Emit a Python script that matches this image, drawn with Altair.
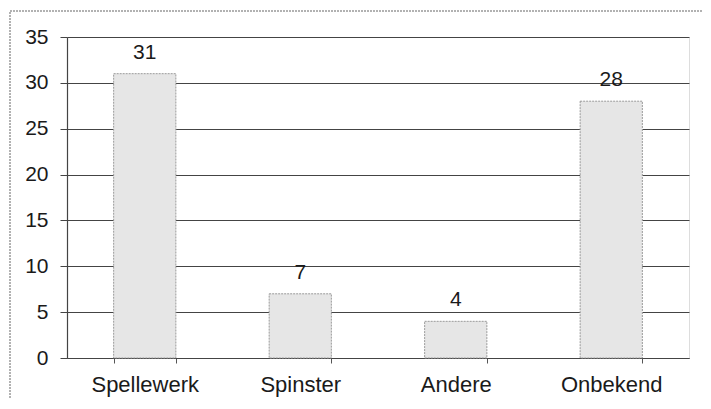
import altair as alt
import pandas as pd

categories = ["Spellewerk", "Spinster", "Andere", "Onbekend"]
values = [31, 7, 4, 28]

df = pd.DataFrame({"cat": categories, "val": values})

FONT = "Liberation Sans"

x_enc = alt.X(
    "cat:N",
    sort=categories,
    title=None,
    scale=alt.Scale(paddingInner=0.6, paddingOuter=0.3),
    axis=alt.Axis(
        labelAngle=0,
        labelFont=FONT,
        labelFontSize=22,
        labelColor="#1a1a1a",
        labelPadding=11,
        tickBand="extent",
        tickSize=5,
        tickColor="#555",
        domainColor="#444",
        domainWidth=1.2,
        grid=False,
    ),
)
y_enc = alt.Y(
    "val:Q",
    title=None,
    scale=alt.Scale(domain=[0, 35], nice=False),
    axis=alt.Axis(
        values=[0, 5, 10, 15, 20, 25, 30, 35],
        labelFont=FONT,
        labelFontSize=21,
        labelColor="#1a1a1a",
        labelPadding=12,
        tickSize=7,
        tickColor="#444",
        domainColor="#444",
        domainWidth=1.2,
        grid=True,
        gridColor="#444",
        gridWidth=1.2,
    ),
)

bars = alt.Chart(df).mark_bar(
    fill="#e6e6e6",
    stroke="#9a9a9a",
    strokeWidth=1,
    strokeDash=[2, 1],
).encode(x=x_enc, y=y_enc)

labels = alt.Chart(df).mark_text(
    font=FONT,
    fontSize=21,
    color="#1a1a1a",
    baseline="alphabetic",
    dy=-15,
).encode(x=alt.X("cat:N", sort=categories), y="val:Q", text="val:Q")

border = alt.Chart(pd.DataFrame({"k": [0]})).mark_rect(
    fill=None,
    stroke="#999",
    strokeWidth=1.5,
    strokeDash=[2, 1],
).encode(
    x=alt.value(-57), x2=alt.value(700), y=alt.value(-26), y2=alt.value(420)
)

chart = alt.layer(border, bars, labels).properties(
    width=622,
    height=321,
    autosize="none",
    padding={"left": 59, "top": 29, "right": 14, "bottom": 40},
).configure_view(stroke=None).configure(background="white")

chart.save("out.html", embed_options={"renderer": "svg", "actions": False})
